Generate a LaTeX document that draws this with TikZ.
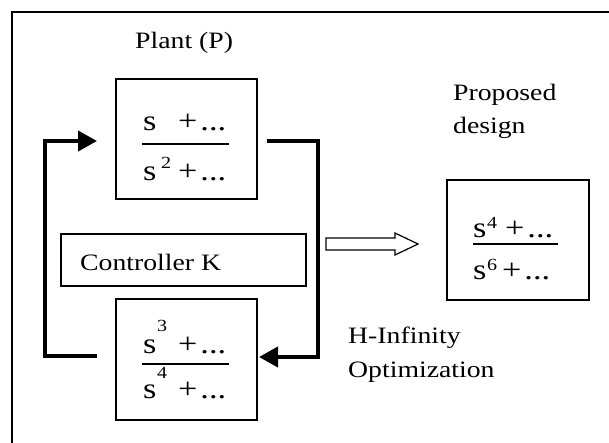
\documentclass[tikz,border=0pt]{standalone}
\usepackage{fontspec}
\setmainfont{Liberation Serif}[FakeStretch=1.18]
\usetikzlibrary{arrows.meta}
\begin{document}
\begin{tikzpicture}[x=1pt,y=-1pt,
  box/.style={draw, line width=1.6pt, inner sep=0pt, anchor=north west},
  lbl/.style={inner sep=0pt, anchor=base west, font=\fontsize{23.5}{28}\selectfont},
  term/.style={inner sep=0pt, anchor=base west, font=\fontsize{29}{34}\selectfont},
  supx/.style={inner sep=0pt, anchor=base west, font=\fontsize{17}{20}\selectfont},
  fracline/.style={line width=1.3pt},
  loopline/.style={line width=4pt},
  tipx/.style={-{Triangle[length=19pt,width=20pt]}}]
\useasboundingbox (0,0) rectangle (609,442);
% frame
\draw[line width=2pt] (12,460) -- (12,12) -- (630,12);
% boxes
\node[box, minimum width=141pt, minimum height=120pt] (plant) at (115,78) {};
\node[box, minimum width=245pt, minimum height=52pt] (ctrl) at (60,233) {};
\node[box, minimum width=141pt, minimum height=121pt] (kbox) at (115,298) {};
\node[box, minimum width=142pt, minimum height=120pt] (design) at (446,179) {};
% labels
\node[lbl] (plantlbl) at (135,48) {Plant (P)};
\node[lbl] (ctrllbl) at (80,270) {Controller K};
\node[lbl] (prop1) at (453,100) {Proposed};
\node[lbl] (prop2) at (453,133) {design};
\node[lbl] (hinf1) at (348,343) {H-Infinity};
\node[lbl] (hinf2) at (348,377) {Optimization};
% plant fraction
\node[term] (p1s) at (143,130) {s};
\node[term] (p1p) at (178,130) {+\kern3pt...};
\draw[fracline] (142,144) -- (229,144);
\node[term] (p2s) at (143,180) {s};
\node[supx] (p2e) at (161,168) {2};
\node[term] (p2p) at (178,180) {+\kern3pt...};
% controller fraction
\node[term] (k1s) at (143,353) {s};
\node[supx] (k1e) at (157,331) {3};
\node[term] (k1p) at (178,353) {+\kern3pt...};
\draw[fracline] (142,364) -- (229,364);
\node[term] (k2s) at (143,398) {s};
\node[supx] (k2e) at (157,378) {4};
\node[term] (k2p) at (178,398) {+\kern3pt...};
% design fraction
\node[term] (d1s) at (473,237) {s};
\node[supx] (d1e) at (487,228) {4};
\node[term] (d1p) at (505,237) {+\kern3pt...};
\draw[fracline] (473,244) -- (558,244);
\node[term] (d2s) at (473,279) {s};
\node[supx] (d2e) at (487,270) {6};
\node[term] (d2p) at (502,279) {+\kern3pt...};
% loops
\coordinate (kout) at (97,356);
\coordinate (pin) at (97,141);
\coordinate (pout) at (267,141);
\coordinate (kin) at (259,357);
\draw[loopline, tipx] (kout) -- (45,356) -- (45,141) -- (pin);
\draw[loopline, tipx] (pout) -- (318,141) -- (318,357) -- (kin);
% hollow arrow
\draw[line width=1.2pt, fill=white] (326,238) -- (395,238) -- (395,233) -- (418,244) -- (395,255) -- (395,250) -- (326,250) -- cycle;
\end{tikzpicture}
\end{document}
